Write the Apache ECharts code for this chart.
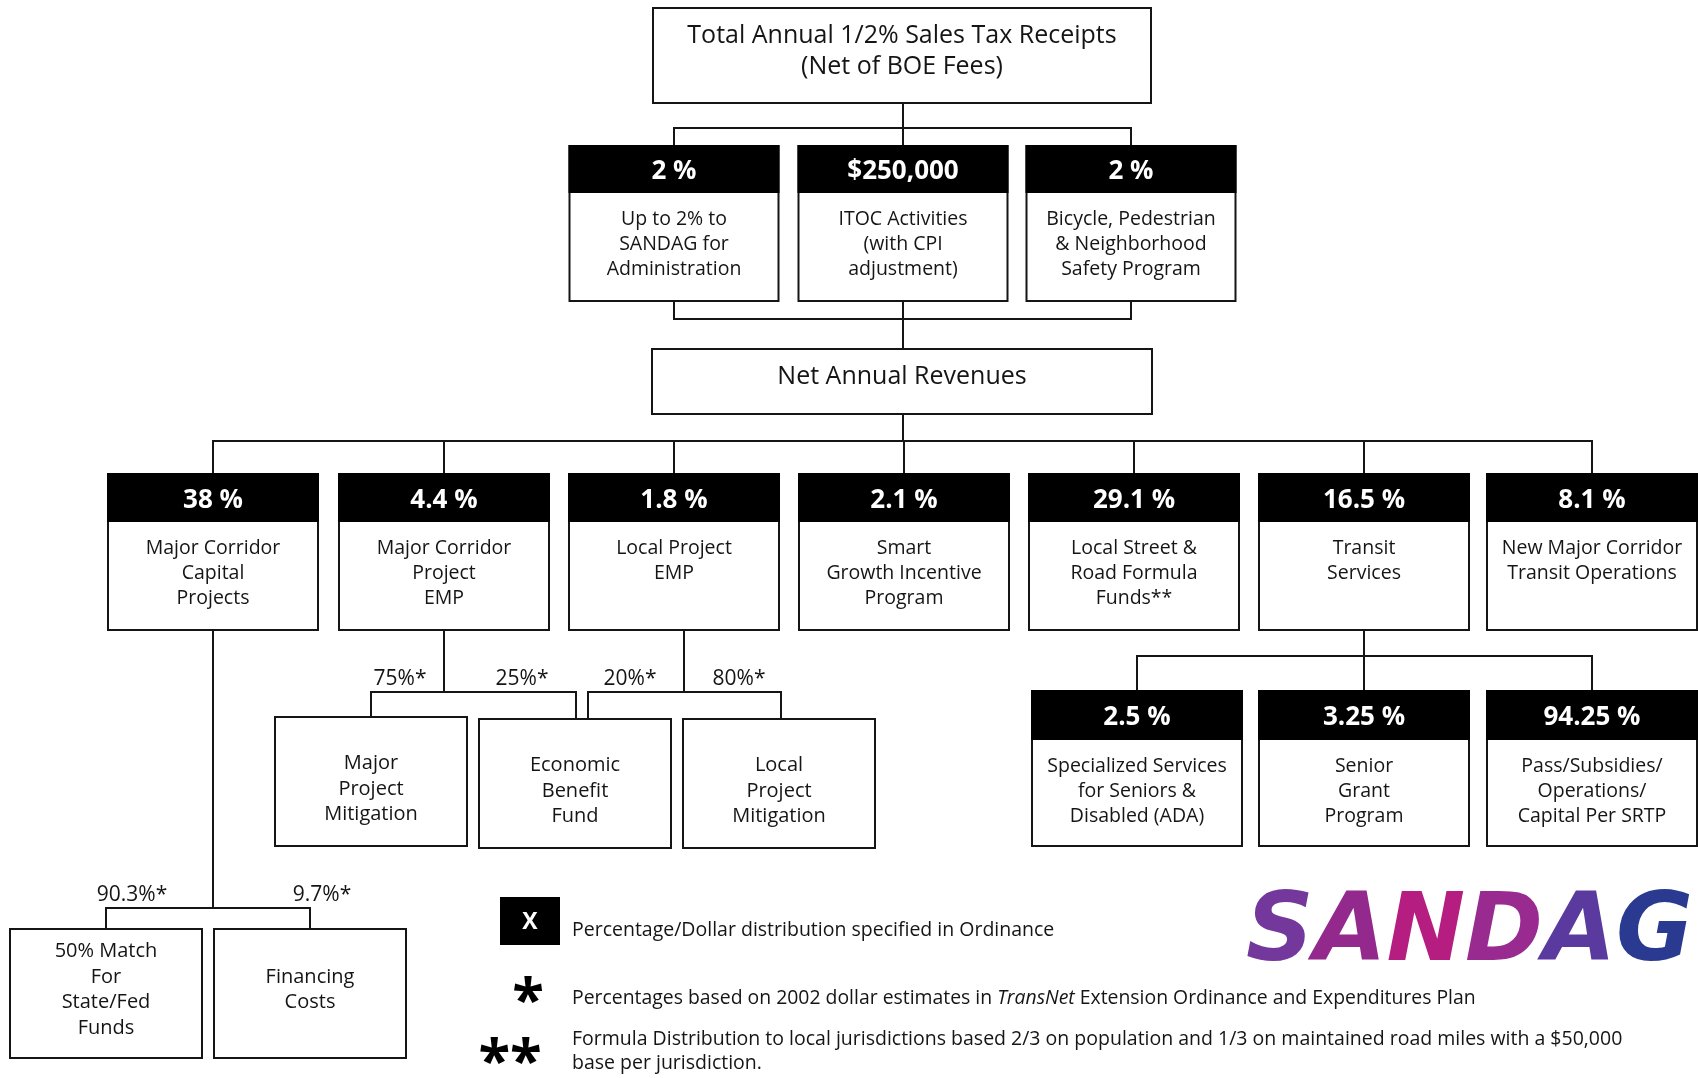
<!DOCTYPE html>
<html>
<head>
<meta charset="utf-8">
<script src="https://cdn.jsdelivr.net/npm/echarts@6/dist/echarts.min.js"></script>
<style>
html,body{margin:0;padding:0;background:#ffffff;}
#chart{width:1698px;height:1078px;}
</style>
</head>
<body>
<div id="chart"></div>
<script>
// ---------------- data (text & values) ----------------
const rootLines = ['Total Annual 1/2% Sales Tax Receipts', '(Net of BOE Fees)'];
const offTopAmounts = ['2 %', '$250,000', '2 %'];
const offTopNames = [
  'Up to 2% to\nSANDAG for\nAdministration',
  'ITOC Activities\n(with CPI\nadjustment)',
  'Bicycle, Pedestrian\n& Neighborhood\nSafety Program'
];
const netName = 'Net Annual Revenues';
const programShares = ['38 %', '4.4 %', '1.8 %', '2.1 %', '29.1 %', '16.5 %', '8.1 %'];
const programNames = [
  'Major Corridor\nCapital\nProjects',
  'Major Corridor\nProject\nEMP',
  'Local Project\nEMP',
  'Smart\nGrowth Incentive\nProgram',
  'Local Street &\nRoad Formula\nFunds**',
  'Transit\nServices',
  'New Major Corridor\nTransit Operations'
];
const transitShares = ['2.5 %', '3.25 %', '94.25 %'];
const transitNames = [
  'Specialized Services\nfor Seniors &\nDisabled (ADA)',
  'Senior\nGrant\nProgram',
  'Pass/Subsidies/\nOperations/\nCapital Per SRTP'
];
const empNames = ['Major\nProject\nMitigation', 'Economic\nBenefit\nFund', 'Local\nProject\nMitigation'];
const majorEmpSplit = ['75%*', '25%*'];
const localEmpSplit = ['20%*', '80%*'];
const corridorNames = ['50% Match\nFor\nState/Fed\nFunds', 'Financing\nCosts'];
const corridorSplit = ['90.3%*', '9.7%*'];
const legendSymbols = ['X', '*', '**'];
const legendNotes = [
  'Percentage/Dollar distribution specified in Ordinance',
  ['Percentages based on 2002 dollar estimates in ', 'TransNet', ' Extension Ordinance and Expenditures Plan'],
  'Formula Distribution to local jurisdictions based 2/3 on population and 1/3 on maintained road miles with a $50,000\nbase per jurisdiction.'
];
const logoLetters = ['S', 'A', 'N', 'D', 'A', 'G'];

// ---------------- layout (diagram geometry, in axis units = px) ----------------
const layout = {
  root:     { cx: 902, top: 8, w: 498, h: 95 },
  offTop:   { cx: [674, 903, 1131], top: 146, w: 209, h: 155, head: 47 },
  net:      { cx: 902, top: 349, w: 500, h: 65 },
  program:  { cx: [213, 444, 674, 904, 1134, 1364, 1592], top: 474, w: 210, h: 156, head: 48 },
  transit:  { cx: [1137, 1364, 1592], top: 691, w: 210, h: 155, head: 49 },
  emp:      { cx: [371, 575, 779], top: [717, 719, 719], w: 192, h: 129, mid: [789, 791, 791] },
  corridor: { cx: [106, 310], top: 929, w: 192, h: 129, mid: 990 },
  splitY: [679, 895],
  majorSplitX: [400, 522], localSplitX: [630, 739], corridorSplitX: [132, 322],
  legend: { square: [500, 897, 560, 945], textX: 572, rows: [930, 998, 1039], symX: [530, 528, 510], symY: [922, 1003, 1064] },
  logo: { x: 1246, y: 936 }
};
const F = "'Open Sans', 'Noto Sans', sans-serif";
const INK = '#151515';
const logoColors = ['#74389c', '#93298d', '#b51e80', '#992a8f', '#5a3a9e', '#2a3a90'];

// ---------------- build nodes ----------------
const nodes = [];
nodes.push({ cx: layout.root.cx, top: layout.root.top, w: layout.root.w, h: layout.root.h, title: rootLines.join('\n') });
offTopAmounts.forEach((a, i) => nodes.push({ cx: layout.offTop.cx[i], top: layout.offTop.top, w: layout.offTop.w, h: layout.offTop.h, head: layout.offTop.head, amount: a, text: offTopNames[i] }));
nodes.push({ cx: layout.net.cx, top: layout.net.top, w: layout.net.w, h: layout.net.h, title: netName });
programShares.forEach((a, i) => nodes.push({ cx: layout.program.cx[i], top: layout.program.top, w: layout.program.w, h: layout.program.h, head: layout.program.head, amount: a, text: programNames[i] }));
transitShares.forEach((a, i) => nodes.push({ cx: layout.transit.cx[i], top: layout.transit.top, w: layout.transit.w, h: layout.transit.h, head: layout.transit.head, amount: a, text: transitNames[i] }));
empNames.forEach((t, i) => nodes.push({ cx: layout.emp.cx[i], top: layout.emp.top[i], w: layout.emp.w, h: layout.emp.h, mid: layout.emp.mid[i], text: t }));
corridorNames.forEach((t, i) => nodes.push({ cx: layout.corridor.cx[i], top: layout.corridor.top, w: layout.corridor.w, h: layout.corridor.h, mid: layout.corridor.mid, text: t }));

// ---------------- connectors ----------------
const P = layout.program, T = layout.transit, O = layout.offTop;
const links = [
  { trunk: [903, layout.root.top + layout.root.h], bus: 128, ends: O.cx.map(x => [x, O.top]) },
  { trunk: [903, layout.net.top], bus: 319, ends: O.cx.map(x => [x, O.top + O.h]) },
  { trunk: [903, layout.net.top + layout.net.h], bus: 441, ends: P.cx.map(x => [x, P.top]) },
  { trunk: [P.cx[1], P.top + P.h], bus: 692, ends: [[371, 717], [576, 719]] },
  { trunk: [684, P.top + P.h], bus: 692, ends: [[588, 719], [781, 719]] },
  { trunk: [P.cx[5], P.top + P.h], bus: 656, ends: T.cx.map(x => [x, T.top]) },
  { trunk: [P.cx[0], P.top + P.h], bus: 908, ends: [[106, 929], [310, 929]] }
];

// ---------------- annotations ----------------
const notes = [];
majorEmpSplit.forEach((t, i) => notes.push({ kind: 'split', text: t, at: [layout.majorSplitX[i], layout.splitY[0]] }));
localEmpSplit.forEach((t, i) => notes.push({ kind: 'split', text: t, at: [layout.localSplitX[i], layout.splitY[0]] }));
corridorSplit.forEach((t, i) => notes.push({ kind: 'split', text: t, at: [layout.corridorSplitX[i], layout.splitY[1]] }));
legendSymbols.forEach((s, i) => notes.push({ kind: i === 0 ? 'square' : 'star', text: s, at: [layout.legend.symX[i], layout.legend.symY[i]] }));
legendNotes.forEach((t, i) => notes.push({ kind: 'legend', text: t, at: [layout.legend.textX, layout.legend.rows[i]], idx: i }));
notes.push({ kind: 'logo', at: [layout.logo.x, layout.logo.y] });

function renderNode(params, api) {
  const n = nodes[api.value(2)];
  const tl = api.coord([n.cx - n.w / 2, n.top]);
  const br = api.coord([n.cx + n.w / 2, n.top + n.h]);
  const x = tl[0], y = tl[1], w = br[0] - x, h = br[1] - y, mx = x + w / 2;
  const ch = [{ type: 'rect', shape: { x, y, width: w, height: h }, style: { fill: '#ffffff', stroke: INK, lineWidth: 2 } }];
  if (n.head) {
    const hb = api.coord([n.cx, n.top + n.head])[1];
    ch.push({ type: 'rect', shape: { x: x - 1, y: y - 1, width: w + 2, height: hb - y + 1 }, style: { fill: '#000000' } });
    ch.push({ type: 'text', style: { text: n.amount, x: mx, y: (y + hb) / 2 + 2.5, align: 'center', verticalAlign: 'middle', fill: '#ffffff', fontFamily: F, fontWeight: 'bold', fontSize: 26 } });
    ch.push({ type: 'text', style: { text: n.text, x: mx, y: hb + 14, align: 'center', verticalAlign: 'top', lineHeight: 25, fill: INK, fontFamily: F, fontSize: 19.5 } });
  } else if (n.title) {
    ch.push({ type: 'text', style: { text: n.title, x: mx, y: y + 12, align: 'center', verticalAlign: 'top', lineHeight: 31, fill: INK, fontFamily: F, fontSize: 25 } });
  } else {
    const m = api.coord([n.cx, n.mid])[1];
    ch.push({ type: 'text', style: { text: n.text, x: mx, y: m, align: 'center', verticalAlign: 'middle', lineHeight: 25.5, fill: INK, fontFamily: F, fontSize: 20 } });
  }
  return { type: 'group', children: ch };
}

function renderLink(params, api) {
  const k = links[api.value(2)];
  const t = api.coord(k.trunk);
  const b = api.coord([k.trunk[0], k.bus])[1];
  const segs = [[t[0], t[1], t[0], b]];
  const xs = [t[0]];
  k.ends.forEach(e => { const p = api.coord(e); segs.push([p[0], b, p[0], p[1]]); xs.push(p[0]); });
  segs.push([Math.min.apply(null, xs), b, Math.max.apply(null, xs), b]);
  return {
    type: 'group',
    children: segs.map(s => ({ type: 'line', shape: { x1: s[0], y1: s[1], x2: s[2], y2: s[3] }, style: { stroke: INK, lineWidth: 2, lineCap: 'square' } }))
  };
}

function renderNote(params, api) {
  const n = notes[api.value(2)];
  const p = api.coord(n.at);
  if (n.kind === 'split') {
    return { type: 'text', style: { text: n.text, x: p[0], y: p[1], align: 'center', verticalAlign: 'middle', fill: INK, fontFamily: F, fontSize: 21 } };
  }
  if (n.kind === 'square') {
    const s = layout.legend.square;
    const a = api.coord([s[0], s[1]]), c = api.coord([s[2], s[3]]);
    return { type: 'group', children: [
      { type: 'rect', shape: { x: a[0], y: a[1], width: c[0] - a[0], height: c[1] - a[1] }, style: { fill: '#000000' } },
      { type: 'text', style: { text: n.text, x: p[0], y: p[1], align: 'center', verticalAlign: 'middle', fill: '#ffffff', fontFamily: F, fontWeight: 'bold', fontSize: 23 } }
    ] };
  }
  if (n.kind === 'star') {
    return { type: 'text', style: { text: n.text, x: p[0], y: p[1], align: 'center', verticalAlign: 'middle', fill: '#000000', fontFamily: F, fontWeight: 'bold', fontSize: 58 } };
  }
  if (n.kind === 'legend') {
    if (Array.isArray(n.text)) {
      return { type: 'text', style: {
        text: '{a|' + n.text[0] + '}{b|' + n.text[1] + '}{a|' + n.text[2] + '}',
        x: p[0], y: p[1], align: 'left', verticalAlign: 'middle',
        rich: {
          a: { fontFamily: F, fontSize: 19.4, fill: INK },
          b: { fontFamily: F, fontSize: 19.4, fill: INK, fontStyle: 'italic' }
        }
      } };
    }
    const multi = n.text.indexOf('\n') >= 0;
    return { type: 'text', style: { text: n.text, x: p[0], y: p[1] - (multi ? 12 : 0), align: 'left', verticalAlign: multi ? 'top' : 'middle', lineHeight: 24, fill: INK, fontFamily: F, fontSize: 19.5 } };
  }
  if (n.kind === 'logo') {
    const rich = {};
    let txt = '';
    logoLetters.forEach((ch, i) => {
      rich['l' + i] = { fontFamily: "'DejaVu Sans', sans-serif", fontWeight: 'bold', fontStyle: 'italic', fontSize: 94, fill: logoColors[i] };
      txt += '{l' + i + '|' + ch + '}';
    });
    return { type: 'text', style: { text: txt, x: p[0], y: p[1], align: 'left', verticalAlign: 'middle', rich } };
  }
  return null;
}

const chart = echarts.init(document.getElementById('chart'), null, { renderer: 'canvas' });
chart.setOption({
  animation: false,
  backgroundColor: '#ffffff',
  grid: { left: 0, right: 0, top: 0, bottom: 0, containLabel: false },
  xAxis: { type: 'value', min: 0, max: 1698, show: false },
  yAxis: { type: 'value', min: 0, max: 1078, inverse: true, show: false },
  series: [
    { type: 'custom', name: 'connectors', renderItem: renderLink, data: links.map((k, i) => [k.trunk[0], k.trunk[1], i]), encode: { x: 0, y: 1 }, silent: true, z: 1 },
    { type: 'custom', name: 'boxes', renderItem: renderNode, data: nodes.map((n, i) => [n.cx, n.top, i]), encode: { x: 0, y: 1 }, silent: true, z: 2 },
    { type: 'custom', name: 'notes', renderItem: renderNote, data: notes.map((n, i) => [n.at[0], n.at[1], i]), encode: { x: 0, y: 1 }, silent: true, z: 3 }
  ]
});
</script>
</body>
</html>
